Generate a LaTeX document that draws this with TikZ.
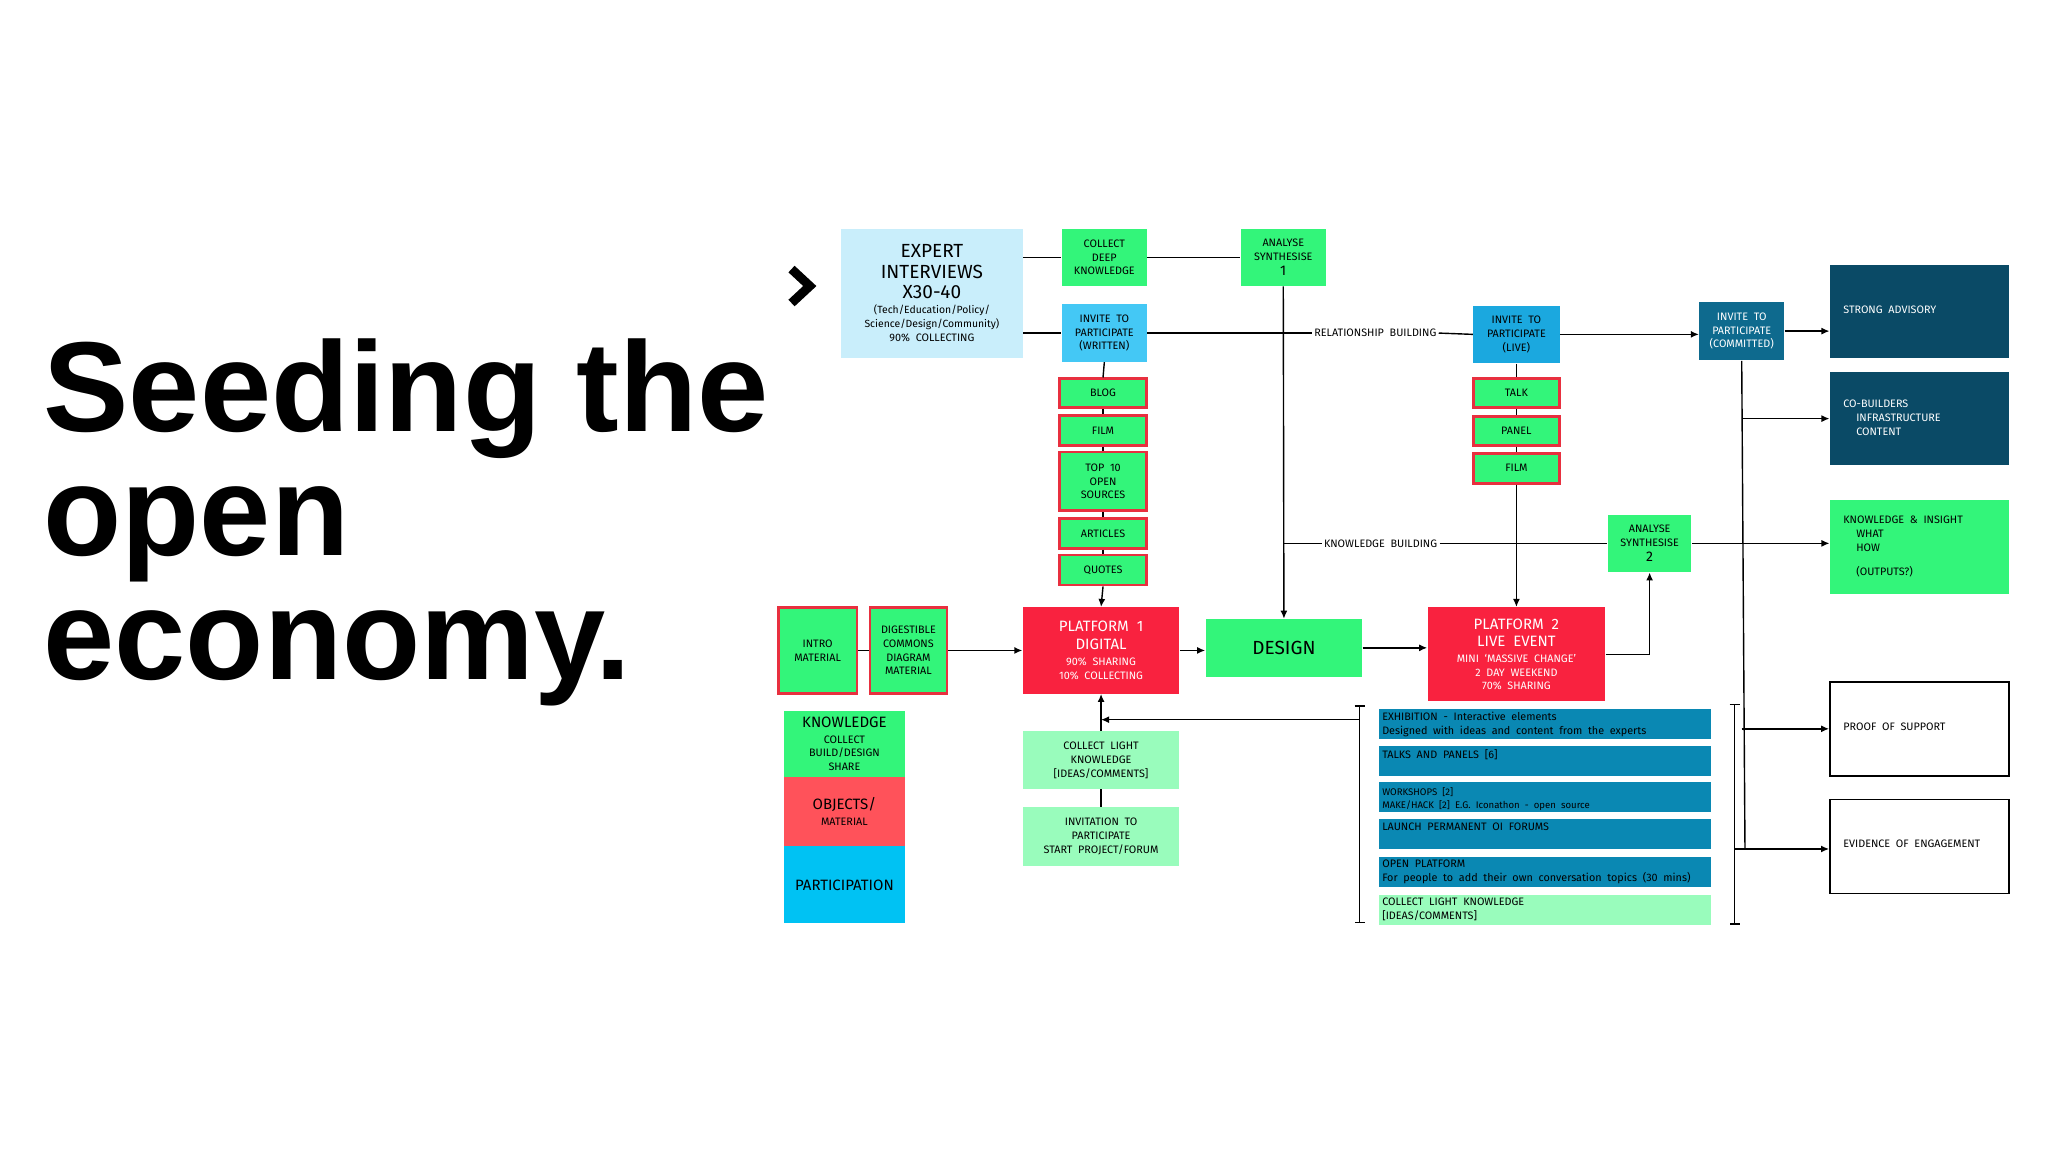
\documentclass[tikz,border=0pt]{standalone}
\usepackage{fontspec}
\setmainfont{Fira Sans}
\newfontfamily\titlefont{Liberation Sans}
\usetikzlibrary{arrows.meta}
\def\myu{0.6531}
\definecolor{gr}{HTML}{33F57A}
\definecolor{rb}{HTML}{E8303F}
\definecolor{lb}{HTML}{C9EEFB}
\definecolor{bw}{HTML}{44C8F5}
\definecolor{bl}{HTML}{1BA8DF}
\definecolor{bc}{HTML}{0E6A8E}
\definecolor{dk}{HTML}{0A4A66}
\definecolor{pr}{HTML}{F9223F}
\definecolor{ob}{HTML}{FF525A}
\definecolor{pa}{HTML}{00C2F3}
\definecolor{li}{HTML}{0A88B3}
\definecolor{lg}{HTML}{99FCBC}
\newcommand\sz[1]{\fontsize{#1}{1.27\dimexpr #1pt\relax}\selectfont}
\newcommand\mybox[7]{\pgfmathsetmacro\bw{(#4-#2)*\myu}\pgfmathsetmacro\bh{(#5-#3)*\myu}%
 \node[#1, minimum width=\bw pt, minimum height=\bh pt] (#6) at ({(#2+#4)/2},{(#3+#5)/2}) {#7};}
\tikzset{
 b/.style={inner sep=0pt, align=center, font=\sz{5.4}},
 g/.style={b, fill=gr},
 gr2/.style={b, fill=gr, draw=rb, line width=1.3pt},
 ln/.style={line width=0.7pt},
 ar/.style={ln, -{Latex[length=4pt,width=3.5pt]}},
 lab/.style={inner sep=1pt, font=\sz{5.4}, fill=white},
 tx/.style={inner sep=0pt, anchor=north west, align=left, font=\sz{5.4}},
}
\begin{document}
\begin{tikzpicture}[x=0.6531pt, y=-0.6531pt]
\useasboundingbox (0,0) rectangle (1568,882);
\fill[white] (0,0) rectangle (1568,882);
% title
\node[inner sep=0pt, anchor=base west, font=\titlefont\bfseries\fontsize{64}{62}\selectfont, align=left] (title) at (33,520) {Seeding the\\open\\economy.};
\draw[line width=4.5pt] (606,206) -- (620,219) -- (606,232);
% top row
\mybox{b, fill=lb}{644}{175}{783}{274}{exp}{\sz{9.5}EXPERT\\[3.2pt]\sz{9.5}INTERVIEWS\\[3.2pt]\sz{9.5}X30-40\\[1pt]\sz{5.2}(Tech/Education/Policy/\\\sz{5.2}Science/Design/Community)\\90\%\ \ COLLECTING}
\mybox{g}{813}{175}{878}{219}{cdk}{COLLECT\\DEEP\\KNOWLEDGE}
\mybox{g}{950}{175}{1015}{219}{a1}{ANALYSE\\SYNTHESISE\\[1pt]\sz{7}1}
\mybox{b, fill=bw}{813}{233}{878}{277}{inw}{INVITE\ \ TO\\PARTICIPATE\\(WRITTEN)}
\mybox{gr2}{811}{290}{878}{312}{blog}{BLOG}
\mybox{gr2}{811}{318}{878}{341}{film}{FILM}
\mybox{gr2}{811}{346}{878}{391}{top}{TOP\ \ 10\\OPEN\\SOURCES}
\mybox{gr2}{811}{397}{878}{420}{art}{ARTICLES}
\mybox{gr2}{811}{425}{878}{448}{quo}{QUOTES}
\mybox{b, fill=bl}{1128}{234}{1194}{278}{ilv}{INVITE\ \ TO\\PARTICIPATE\\(LIVE)}
\mybox{gr2}{1128}{290}{1194}{312}{talk}{TALK}
\mybox{gr2}{1128}{319}{1194}{341}{panel}{PANEL}
\mybox{gr2}{1128}{347}{1194}{370}{film2}{FILM}
\mybox{b, fill=bc, text=white}{1301}{231}{1366}{276}{icm}{INVITE\ \ TO\\PARTICIPATE\\(COMMITTED)}
\mybox{g}{1231}{394}{1295}{438}{a2}{ANALYSE\\SYNTHESISE\\[1pt]\sz{7}2}
% right outputs
\mybox{b, fill=dk}{1401}{203}{1538}{274}{sa}{}
\node[tx, text=white] (sat) at (1411,234) {STRONG\ \ ADVISORY};
\mybox{b, fill=dk}{1401}{285}{1538}{356}{cb}{}
\node[tx, text=white] (cbt) at (1411,306) {CO-BUILDERS\\\hspace{1.2em}INFRASTRUCTURE\\\hspace{1.2em}CONTENT};
\mybox{b, fill=gr}{1401}{383}{1538}{455}{ki}{}
\node[tx] (kit) at (1411,395) {KNOWLEDGE\ \ \&\ \ INSIGHT\\\hspace{1.2em}WHAT\\\hspace{1.2em}HOW\\[5pt]\hspace{1.2em}(OUTPUTS?)};
\mybox{b, draw=black, line width=0.8pt}{1401}{522}{1538}{594}{pf}{}
\node[tx] (pft) at (1411,553) {PROOF\ \ OF\ \ SUPPORT};
\mybox{b, draw=black, line width=0.8pt}{1401}{612}{1538}{684}{ev}{}
\node[tx] (evt) at (1411,643) {EVIDENCE\ \ OF\ \ ENGAGEMENT};
% middle row
\mybox{gr2}{596}{465}{656}{531}{intro}{INTRO\\MATERIAL}
\mybox{gr2}{666}{465}{725}{531}{dig}{DIGESTIBLE\\COMMONS\\DIAGRAM\\MATERIAL}
\mybox{b, fill=pr, text=white}{783}{465}{903}{531}{p1}{\sz{7.5}PLATFORM\ \ 1\\[2pt]\sz{7.5}DIGITAL\\[1pt]90\%\ \ SHARING\\10\%\ \ COLLECTING}
\mybox{g}{923}{474}{1043}{518}{des}{\sz{9.5}DESIGN}
\mybox{b, fill=pr, text=white}{1093}{465}{1229}{537}{p2}{\sz{7.5}PLATFORM\ \ 2\\[2pt]\sz{7.5}LIVE\ \ EVENT\\[1pt]MINI\ \ `MASSIVE\ \ CHANGE'\\2\ \ DAY\ \ WEEKEND\\70\%\ \ SHARING}
% legend
\mybox{g}{600}{544}{693}{595}{kn}{\sz{7.5}KNOWLEDGE\\[1pt]COLLECT\\BUILD/DESIGN\\SHARE}
\mybox{b, fill=ob}{600}{595}{693}{648}{obj}{\sz{7.5}OBJECTS/\\[1pt]MATERIAL}
\mybox{b, fill=pa, font=\sz{7.5}}{600}{648}{693}{707}{part}{PARTICIPATION}
\mybox{b, fill=lg}{783}{560}{903}{604}{cl}{COLLECT\ \ LIGHT\\KNOWLEDGE\\{[}IDEAS/COMMENTS{]}}
\mybox{b, fill=lg}{783}{618}{903}{663}{inv}{INVITATION\ \ TO\\PARTICIPATE\\START\ \ PROJECT/FORUM}
% list
\mybox{b, fill=li}{1056}{543}{1310}{566}{l1}{}
\node[tx] (l1t) at (1058,545) {EXHIBITION\ \ -\ \ Interactive\ \ elements\\Designed\ \ with\ \ ideas\ \ and\ \ content\ \ from\ \ the\ \ experts};
\mybox{b, fill=li}{1056}{571}{1310}{594}{l2}{}
\node[tx] (l2t) at (1058,574) {TALKS\ \ AND\ \ PANELS\ \ [6]};
\mybox{b, fill=li}{1056}{599}{1310}{622}{l3}{}
\node[tx, font=\sz{4.8}] (l3t) at (1058,603) {WORKSHOPS\ \ [2]\\MAKE/HACK\ \ [2]\ \ E.G.\ \ Iconathon\ \ -\ \ open\ \ source};
\mybox{b, fill=li}{1056}{627}{1310}{650}{l4}{}
\node[tx] (l4t) at (1058,630) {LAUNCH\ \ PERMANENT\ \ OI\ \ FORUMS};
\mybox{b, fill=li}{1056}{656}{1310}{679}{l5}{}
\node[tx] (l5t) at (1058,658) {OPEN\ \ PLATFORM\\For\ \ people\ \ to\ \ add\ \ their\ \ own\ \ conversation\ \ topics\ \ (30\ \ mins)};
\mybox{b, fill=lg}{1056}{685}{1310}{708}{l6}{}
\node[tx] (l6t) at (1058,687) {COLLECT\ \ LIGHT\ \ KNOWLEDGE\\{[}IDEAS/COMMENTS{]}};
% labels
\node[lab] (rel) at (1053,255) {RELATIONSHIP\ \ BUILDING};
\node[lab] (kb) at (1057,416) {KNOWLEDGE\ \ BUILDING};
% coordinates
\coordinate (bl1) at (1041,540); \coordinate (bl2) at (1041,707);
\coordinate (bla) at (1041,551);
\coordinate (br1) at (1328,539); \coordinate (br2) at (1328,708);
\coordinate (bre) at (1328,650);
\coordinate (cme) at (1336,650);
% connectors
\draw[ln] (exp.east |- cdk.west) -- (cdk.west);
\draw[ln] (cdk.east) -- (a1.west);
\draw[ln] (exp.east |- inw.west) -- (inw.west);
\draw[ln] (inw.east) -- (rel.west);
\draw[ln] (rel.east) -- (ilv.west);
\draw[ln] (inw.south) -- (blog.north);
\draw[ln] (blog) -- (film); \draw[ln] (film) -- (top); \draw[ln] (top) -- (art); \draw[ln] (art) -- (quo);
\draw[ar] (quo.south) -- (p1.north);
\draw[ar] (a1.south) -- (des.north);
\draw[ln] (a1.south |- kb.west) -- (kb.west);
\draw[ln] (kb.east) -- (a2.west);
\draw[ar] (ilv.east) -- (icm.west |- ilv.east);
\draw[ar] (icm.east) -- (sa.west |- icm.east);
\draw[ln] (ilv.south) -- (talk.north);
\draw[ln] (talk) -- (panel); \draw[ln] (panel) -- (film2);
\draw[ar] (film2.south) -- (p2.north);
\draw[ar] (a2.east) -- (ki.west |- a2.east);
\draw[ar] (p2.east) -| (a2.south);
\draw[ln] (icm.south) -- (cme);
\draw[ar] (icm.south |- cb.west) -- (cb.west);
\draw[ar] (icm.south |- pf.west) -- (pf.west);
\draw[ar] (bre) -- (ev.west |- bre);
\draw[ln] (intro) -- (dig);
\draw[ar] (dig.east) -- (p1.west);
\draw[ar] (p1.east) -- (des.west |- p1.east);
\draw[ar] (des.east) -- (p2.west |- des.east);
\draw[ar] (cl.north) -- (cl.north |- p1.south);
\draw[ln] (cl.south) -- (cl.south |- inv.north);
\draw[ar] (bla) -- (cl.north |- bla);
\draw[ln, {Bar[width=5pt]}-{Bar[width=5pt]}] (bl1) -- (bl2);
\draw[ln, {Bar[width=5pt]}-{Bar[width=5pt]}] (br1) -- (br2);
\end{tikzpicture}
\end{document}
